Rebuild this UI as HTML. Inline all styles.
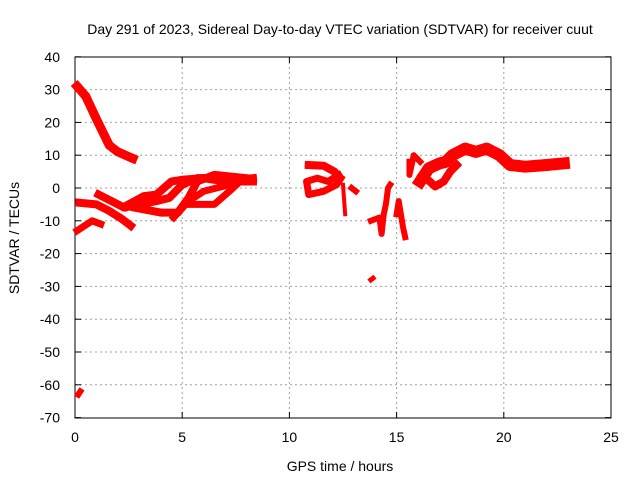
<!DOCTYPE html>
<html><head><meta charset="utf-8"><style>
body{margin:0;background:#fff}
svg{display:block;font-family:"Liberation Sans",sans-serif}
</style></head><body>
<svg id="c" width="640" height="480"></svg>
<script>
const xTicks=[0,5,10,15,20,25];
const yTicks=[40,30,20,10,0,-10,-20,-30,-40,-50,-60,-70];
const trackA=[[0.1,31],[0.5,28],[1,21],[1.6,13],[2,11],[2.7,9]];
const trackB=[[0.2,-4.5],[1,-5],[1.6,-7],[2.2,-9.5],[2.6,-11.5]];
const trackC=[[0.1,-13],[0.8,-10],[1.2,-11]];
const trackD=[[1.1,-2],[1.7,-4],[2.3,-6],[3,-5],[3.8,-4],[4.4,-3],[5,1],[5.7,3],[6.5,3],[7.5,2.5],[8.3,3]];
const trackF=[[2.5,-5],[3.2,-2.5],[3.8,-2],[4.5,2],[5,2.5],[6,3],[7,2],[8.3,2]];
const trackG=[[2.8,-6],[4,-7.5],[4.8,-7.5],[5.3,-3],[5.7,2],[6.5,4],[8,3]];
const trackH=[[4.6,-9],[5.3,-4],[6,-1],[7.2,1]];
const trackJ=[[5.3,-5],[6.5,-5],[7.2,-1],[7.7,2]];
const trackK1=[[10.9,7],[11.6,6.8],[12.1,5],[12.3,3]];
const trackK2=[[12.3,4],[11.8,2],[11.3,3],[10.8,2],[10.9,-2],[11.6,-1],[12.2,1],[12.4,3]];
const trackL=[[12.5,1],[12.6,-8]];
const trackM=[[12.9,0],[13.1,-1]];
const trackN=[[13.8,-28],[13.9,-27.5]];
const trackO=[[13.8,-10],[14.2,-9],[14.3,-14],[14.4,-8],[14.5,-5],[14.6,0],[14.7,1]];
const trackP=[[15,-8],[15.1,-4],[15.3,-12],[15.4,-15]];
const trackQ=[[15.6,8],[15.6,4],[15.8,10],[16.1,8]];
const trackR=[[16.1,2],[16.5,6],[17,7.5],[17.3,8],[17.6,10],[18.2,12],[18.7,11],[19.2,12],[19.8,10],[20.3,7],[21,6.5],[22,7],[22.8,7.5]];
const trackS=[[16.2,4],[16.8,0.5],[17.2,2],[17.5,5],[17.8,7]];
const trackT=[[0.15,-63],[0.25,-62]];
const tracks=[[trackA,9],[trackB,8],[trackC,7],[trackD,8],[trackF,8],[trackG,8],[trackH,7],[trackJ,7],[trackK1,8],[trackK2,7],[trackL,4],[trackM,6],[trackN,5],[trackO,6],[trackP,6],[trackQ,6],[trackR,12],[trackS,8],[trackT,6]];
const X=t=>75+t*21.44, Y=v=>188-v*3.28;
const NS='http://www.w3.org/2000/svg', svg=document.getElementById('c');
function mk(tag,attrs,parent){const e=document.createElementNS(NS,tag);for(const k in attrs)e.setAttribute(k,attrs[k]);(parent||svg).appendChild(e);return e;}
xTicks.forEach(t=>{
  if(t>0&&t<25){const g=mk('line',{x1:X(t),x2:X(t),y1:57,y2:418,stroke:'#a0a0a0','stroke-dasharray':'2,3'});
  
  }
  const l=mk('text',{x:X(t),y:442,'text-anchor':'middle','font-size':'14'});l.textContent=t;
  
  
  mk('line',{x1:X(t),x2:X(t),y1:418,y2:412,stroke:'#000'});mk('line',{x1:X(t),x2:X(t),y1:57,y2:63,stroke:'#000'});
});
yTicks.forEach(v=>{
  if(v<40&&v>-70){const g=mk('line',{x1:75,x2:611,y1:Y(v),y2:Y(v),stroke:'#a0a0a0','stroke-dasharray':'2,3'});
  
  }
  const l=mk('text',{x:60,y:Y(v)+5,'text-anchor':'end','font-size':'14'});l.textContent=v;
  
  
  mk('line',{x1:75,x2:81,y1:Y(v),y2:Y(v),stroke:'#000'});mk('line',{x1:611,x2:605,y1:Y(v),y2:Y(v),stroke:'#000'});
});
const fr=mk('rect',{x:75,y:57,width:536,height:361,fill:'none',stroke:'#000'});


tracks.forEach(([pts,w])=>{
  const p=mk('polyline',{points:pts.map(d=>X(d[0])+','+Y(d[1])).join(' '),fill:'none',stroke:'#f00','stroke-width':w,'stroke-linejoin':'round','stroke-linecap':'square'});
  
  
});
const t=mk('text',{x:340,y:34,'text-anchor':'middle','font-size':'14'});t.textContent='Day 291 of 2023, Sidereal Day-to-day VTEC variation (SDTVAR) for receiver cuut';


const xl=mk('text',{x:340,y:471,'text-anchor':'middle','font-size':'14'});xl.textContent='GPS time / hours';


const yl=mk('text',{x:19,y:238,'text-anchor':'middle','font-size':'14',transform:'rotate(-90 19 238)'});yl.textContent='SDTVAR / TECUs';


</script>
</body></html>
